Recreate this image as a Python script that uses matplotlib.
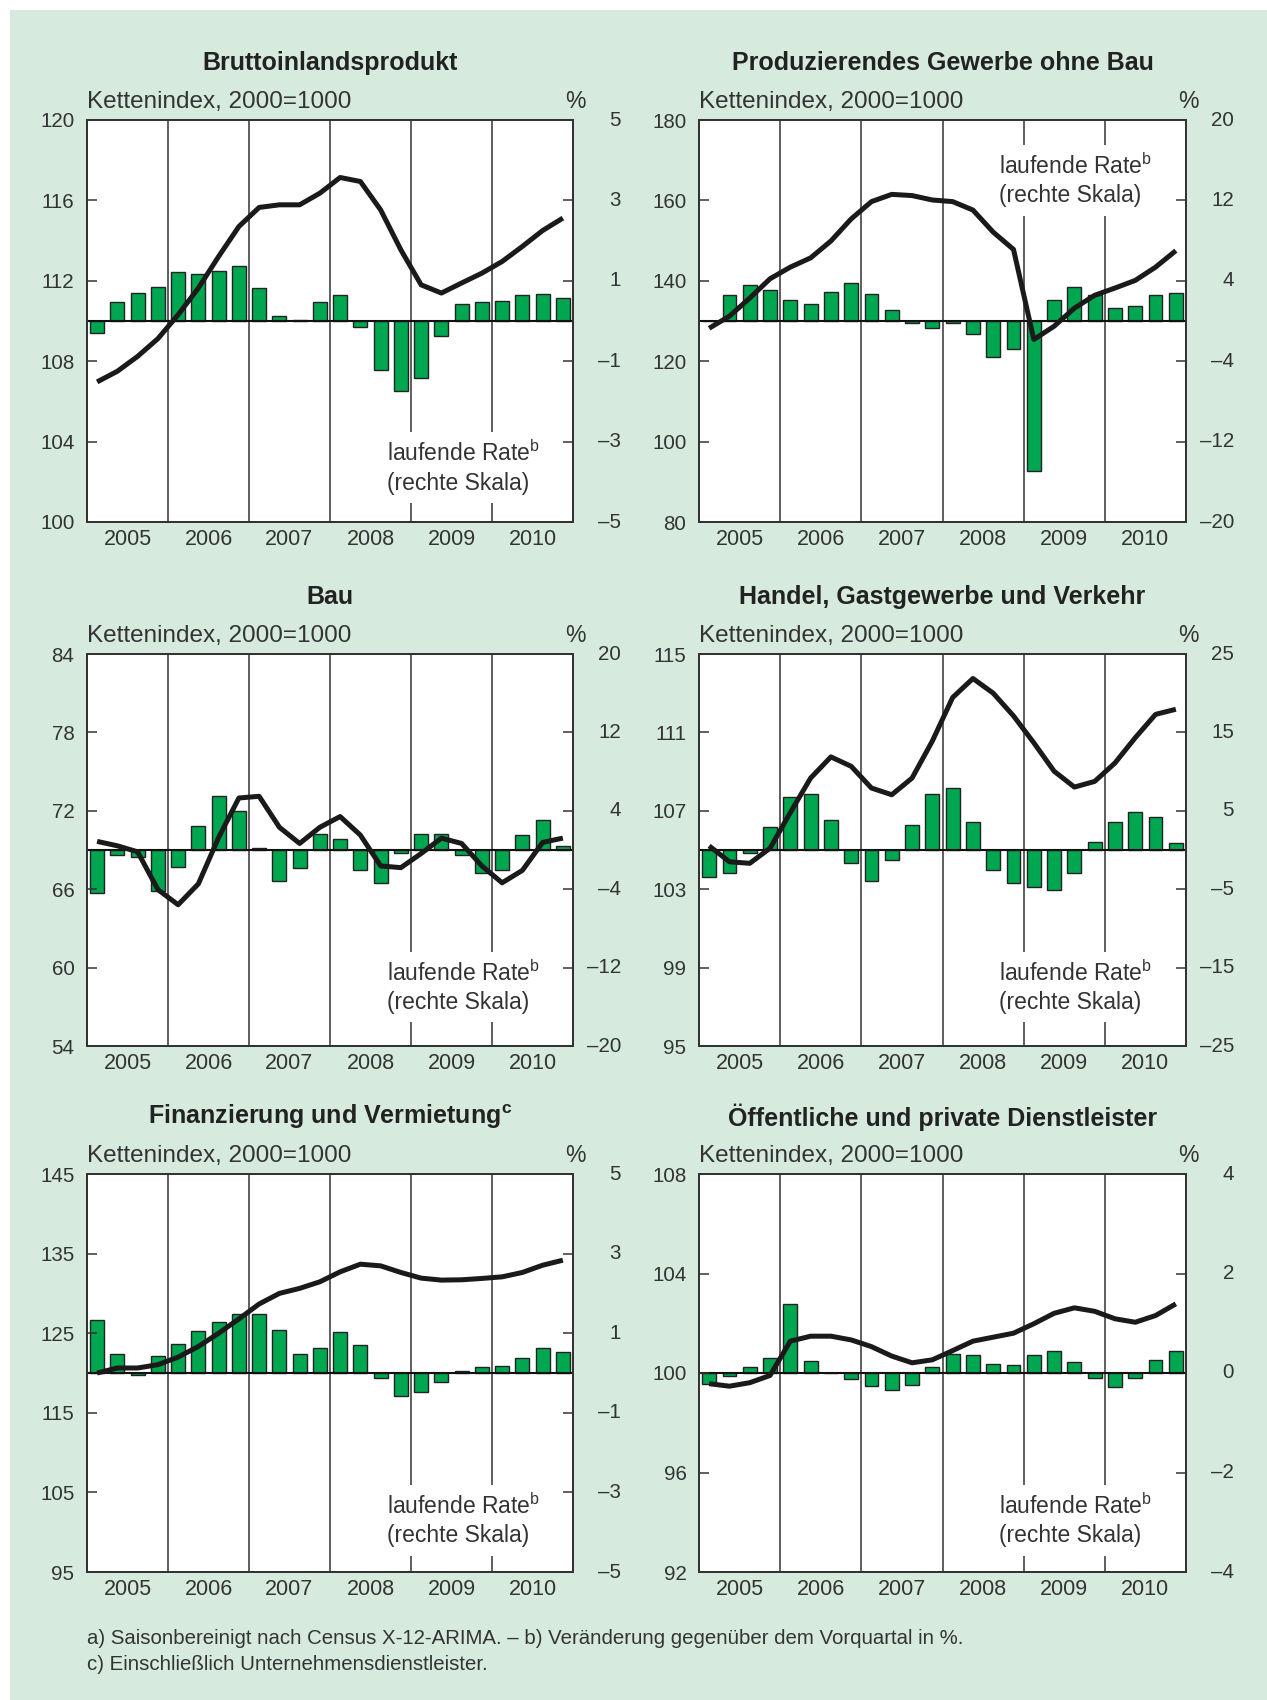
import matplotlib
matplotlib.use("Agg")
import matplotlib.pyplot as plt
from matplotlib.patches import Rectangle

plt.rcParams['font.family'] = ['Liberation Sans', 'DejaVu Sans']
plt.rcParams['mathtext.fontset'] = 'custom'
plt.rcParams['mathtext.rm'] = 'Liberation Sans'
plt.rcParams['mathtext.bf'] = 'Liberation Sans:bold'
plt.rcParams['axes.unicode_minus'] = True

# quarters 2005Q1 .. 2010Q4
years = ["2005", "2006", "2007", "2008", "2009", "2010"]

bip_index = [106.97, 107.5, 108.24, 109.12, 110.31, 111.64, 113.21, 114.70,
             115.65, 115.78, 115.78, 116.36, 117.14, 116.94, 115.53, 113.54,
             111.80, 111.39, 111.89, 112.38, 112.96, 113.71, 114.50, 115.12]
bip_rate = [-0.30, 0.47, 0.70, 0.85, 1.22, 1.18, 1.24, 1.37,
            0.81, 0.13, 0.03, 0.47, 0.64, -0.16, -1.22, -1.74,
            -1.43, -0.38, 0.42, 0.47, 0.50, 0.65, 0.68, 0.57]

prod_index = [128.2, 131.2, 135.7, 140.5, 143.4, 145.7, 149.9, 155.4,
              159.7, 161.5, 161.2, 160.1, 159.7, 157.6, 152.1, 147.8,
              125.4, 128.7, 133.2, 136.4, 138.2, 140.1, 143.4, 147.5]
prod_rate = [0.0, 2.56, 3.55, 3.12, 2.09, 1.66, 2.92, 3.75,
             2.69, 1.10, -0.20, -0.66, -0.20, -1.33, -3.55, -2.79,
             -14.92, 2.13, 3.42, 2.56, 1.30, 1.53, 2.56, 2.79]

bau_index = [69.66, 69.32, 68.86, 65.97, 64.81, 66.41, 69.96, 72.98,
             73.11, 70.74, 69.50, 70.74, 71.56, 70.14, 67.78, 67.65,
             68.73, 69.91, 69.50, 67.78, 66.49, 67.44, 69.58, 69.91]
bau_rate = [-4.40, -0.55, -0.69, -4.22, -1.75, 2.47, 5.53, 3.98,
            0.17, -3.19, -1.82, 1.68, 1.17, -2.06, -3.36, -0.27,
            1.63, 1.63, -0.51, -2.33, -2.06, 1.49, 3.07, 0.43]

handel_index = [105.21, 104.40, 104.32, 105.09, 106.91, 108.67, 109.75, 109.27,
                108.16, 107.82, 108.67, 110.56, 112.78, 113.75, 113.0, 111.84,
                110.47, 109.02, 108.21, 108.50, 109.44, 110.73, 111.92, 112.18]
handel_rate = [-3.50, -2.99, -0.43, 2.99, 6.71, 7.14, 3.89, -1.71,
               -3.97, -1.32, 3.16, 7.18, 7.91, 3.63, -2.56, -4.27,
               -4.74, -5.04, -2.99, 1.03, 3.55, 4.83, 4.23, 0.85]

finanz_index = [120.0, 120.63, 120.63, 121.04, 122.0, 123.33, 125.0, 126.79,
                128.67, 130.0, 130.63, 131.46, 132.71, 133.67, 133.46, 132.63,
                131.92, 131.67, 131.71, 131.88, 132.08, 132.63, 133.54, 134.17]
finanz_rate = [1.32, 0.48, -0.05, 0.43, 0.74, 1.06, 1.29, 1.48,
               1.48, 1.09, 0.48, 0.63, 1.03, 0.71, -0.13, -0.59,
               -0.48, -0.22, 0.06, 0.14, 0.18, 0.38, 0.63, 0.53]

dienst_index = [99.57, 99.47, 99.61, 99.90, 101.28, 101.48, 101.48, 101.33,
                101.06, 100.68, 100.41, 100.53, 100.90, 101.28, 101.44, 101.60,
                101.98, 102.40, 102.62, 102.48, 102.18, 102.04, 102.31, 102.78]
dienst_rate = [-0.22, -0.06, 0.13, 0.30, 1.38, 0.24, 0.01, -0.13,
               -0.26, -0.35, -0.24, 0.12, 0.38, 0.36, 0.18, 0.16,
               0.36, 0.45, 0.23, -0.11, -0.28, -0.10, 0.26, 0.45]

titles = ["Bruttoinlandsprodukt",
          "Produzierendes Gewerbe ohne Bau",
          "Bau",
          "Handel, Gastgewerbe und Verkehr",
          r"Finanzierung und Vermietung$^{\mathbf{c}}$",
          "Öffentliche und private Dienstleister"]
indices = [bip_index, prod_index, bau_index, handel_index, finanz_index, dienst_index]
rates = [bip_rate, prod_rate, bau_rate, handel_rate, finanz_rate, dienst_rate]
left_ticks = [[100, 104, 108, 112, 116, 120],
              [80, 100, 120, 140, 160, 180],
              [54, 60, 66, 72, 78, 84],
              [95, 99, 103, 107, 111, 115],
              [95, 105, 115, 125, 135, 145],
              [92, 96, 100, 104, 108]]
right_ticks = [[-5, -3, -1, 1, 3, 5],
               [-20, -12, -4, 4, 12, 20],
               [-20, -12, -4, 4, 12, 20],
               [-25, -15, -5, 5, 15, 25],
               [-5, -3, -1, 1, 3, 5],
               [-4, -2, 0, 2, 4]]
label_y = [0.135, 0.85, 0.15, 0.15, 0.13, 0.13]

footnote1 = "a) Saisonbereinigt nach Census X-12-ARIMA. – b) Veränderung gegenüber dem Vorquartal in %."
footnote2 = "c) Einschließlich Unternehmensdienstleister."

# layout (pixels)
W, H = 1267, 1700
col_x = [(87, 573), (699, 1186)]
row_y = [(120, 522), (654, 1046), (1174, 1572)]
bg = "#d6ebdd"
bar_green = "#00a650"
txt = "#333333"
fs = 14.8
fs_big = 16.5

fig = plt.figure(figsize=(W / 100, H / 100), dpi=100)
fig.patch.set_facecolor("white")
fig.add_artist(Rectangle((10 / W, 0), 1 - 10 / W, 1 - 10 / H, transform=fig.transFigure,
                         facecolor=bg, edgecolor="none", zorder=0))

def fmt(v):
    return str(v).replace("-", "–")

x = [i + 0.5 for i in range(24)]

for k in range(6):
    r, c = divmod(k, 2)
    x0, x1 = col_x[c]
    y0, y1 = row_y[r]
    rect = [x0 / W, 1 - y1 / H, (x1 - x0) / W, (y1 - y0) / H]
    ax = fig.add_axes(rect)
    ax2 = ax.twinx()
    ax.set_zorder(ax2.get_zorder() + 1)
    ax.patch.set_visible(False)
    ax2.patch.set_visible(True)
    ax2.patch.set_facecolor("white")

    # bars on right scale
    ax2.bar(x, rates[k], width=0.68, color=bar_green, edgecolor="#222222", linewidth=1.0, zorder=2)
    ax2.axhline(0, color="#111111", lw=1.5, zorder=3)
    for yb in range(1, 6):
        ax2.axvline(4 * yb, color="#333333", lw=1.1, zorder=1)
    rt = right_ticks[k]
    ax2.set_ylim(rt[0], rt[-1])
    ax2.set_yticks(rt)
    ax2.tick_params(axis="y", direction="in", length=7, width=1.1, color="#333333",
                    labelright=False)
    # right-aligned labels for the % scale
    for v in rt:
        ax2.annotate(fmt(v), xy=(1, v), xycoords=("axes fraction", "data"),
                     xytext=(34.5, 0), textcoords="offset points",
                     ha="right", va="center", fontsize=fs, color=txt,
                     annotation_clip=False)

    # index line on left scale
    ax.plot(x, indices[k], color="#1a1a1a", lw=3.6, solid_capstyle="butt", zorder=5)
    lt = left_ticks[k]
    ax.set_ylim(lt[0], lt[-1])
    ax.set_yticks(lt)
    ax.set_yticklabels([str(v) for v in lt])
    ax.tick_params(axis="y", direction="in", length=7, width=1.1, color="#333333",
                   labelsize=fs, labelcolor=txt, pad=9)
    ax.set_xlim(0, 24)
    ax.set_xticks([2 + 4 * i for i in range(6)])
    ax.set_xticklabels(years)
    ax.tick_params(axis="x", length=0, labelsize=fs + 0.7, labelcolor=txt, pad=5)

    for a in (ax, ax2):
        for s in a.spines.values():
            s.set_color("#333333")
            s.set_linewidth(1.4)

    ax.text(0.617, label_y[k], "laufende Rate$^{\\mathrm{b}}$\n(rechte Skala)",
            transform=ax.transAxes, ha="left", va="center", fontsize=fs_big, color=txt,
            linespacing=1.3, zorder=6,
            bbox=dict(facecolor="white", edgecolor="none", pad=6))

    ax.annotate("Kettenindex, 2000=1000", xy=(0, 1), xycoords="axes fraction",
                xytext=(0, 13), textcoords="offset points", ha="left", va="center",
                fontsize=17.5, color=txt)
    ax.annotate("%", xy=(1, 1), xycoords="axes fraction",
                xytext=(2, 13), textcoords="offset points", ha="center", va="center",
                fontsize=fs_big, color=txt)
    ax.annotate(titles[k], xy=(0.5, 1), xycoords="axes fraction",
                xytext=(0, 41), textcoords="offset points", ha="center", va="center",
                fontsize=18, fontweight="bold", color="#222222")

fig.text(87 / W, 1 - 1638 / H, footnote1, fontsize=14.7, color=txt, va="center", ha="left")
fig.text(87 / W, 1 - 1664 / H, footnote2, fontsize=14.7, color=txt, va="center", ha="left")

fig.savefig("out.png", dpi=100, facecolor=fig.get_facecolor())
